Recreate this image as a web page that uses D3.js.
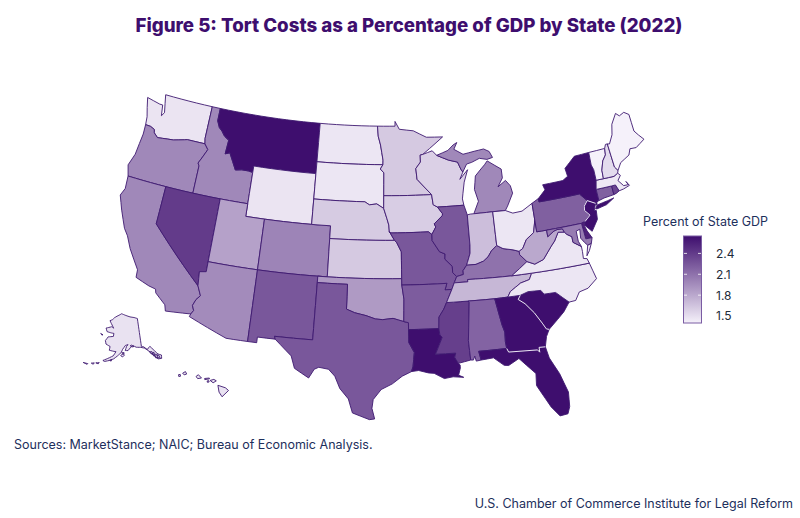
<!DOCTYPE html>
<html>
<head>
<meta charset="utf-8">
<script src="https://cdnjs.cloudflare.com/ajax/libs/d3/7.8.5/d3.min.js"></script>
<style>
html, body { margin: 0; padding: 0; background: #fff; }
svg { display: block; }
text { font-family: Inter, "Noto Sans", sans-serif; }
</style>
</head>
<body>
<svg width="800" height="518"></svg>
<script>
var stateNames = ["WA","OR","CA","ID","NV","MT","WY","UT","AZ","CO","NM","ND","SD","NE","KS","OK","TX",
  "MN","IA","MO","AR","LA","WI","IL","MS","MI","IN","KY","TN","AL","OH","GA","FL","SC","NC","VA","WV",
  "PA","NY","NJ","DE","MD","CT","RI","MA","VT","NH","ME","AK","HI"];
var stateValues = [1.47,1.98,1.98,1.98,2.40,2.65,1.47,1.84,1.96,2.0,2.25,1.46,1.46,1.61,1.62,1.88,2.25,
  1.62,1.60,2.25,2.22,2.65,1.58,2.25,2.38,1.98,1.68,2.1,1.72,2.18,1.46,2.65,2.65,2.65,1.46,1.46,1.8,
  2.2,2.65,2.65,2.55,2.05,2.2,2.35,1.45,1.40,1.52,1.40,1.48,1.48];
var legendTicks = [1.5,1.8,2.1,2.4];
var legendDomain = [1.4,2.65];

// outlines as [lon, lat], one list of rings per state
var outlines = {
  WA: [[[-124.7,48.38],[-123.1,48.15],[-122.75,48.15],[-122.55,47.3],[-122.3,47.6],[-122.75,49],[-117.03,49],[-117.04,46.42],[-116.92,46],[-118.98,46],[-119.3,45.93],[-120.5,45.7],[-121.2,45.65],[-122.3,45.55],[-122.8,45.85],[-122.9,46.1],[-123.4,46.25],[-124,46.27],[-124.1,46.9],[-124.4,47.6]]],
  OR: [[[-124,46.27],[-123.4,46.25],[-122.9,46.1],[-122.8,45.85],[-122.3,45.55],[-121.2,45.65],[-120.5,45.7],[-119.3,45.93],[-118.98,46],[-116.92,46],[-116.46,45.6],[-116.85,44.95],[-117.2,44.4],[-117.03,44.2],[-117.03,42],[-120,42],[-124.2,42],[-124.55,42.84],[-124.15,43.8],[-124.05,44.7],[-123.95,45.5]]],
  CA: [[[-124.2,42],[-120,42],[-120,39],[-114.57,35],[-114.15,34.27],[-114.5,33.9],[-114.72,33.4],[-114.52,33.03],[-114.72,32.72],[-117.12,32.53],[-117.3,33],[-118.4,33.75],[-118.5,34.03],[-119.2,34.15],[-120.6,34.55],[-120.65,35.15],[-121.9,36.6],[-122.5,37.5],[-123,38],[-123.8,39.3],[-124.4,40.4],[-124.1,41]]],
  ID: [[[-117.03,49],[-116.05,49],[-116.05,48],[-115.7,47.5],[-115.3,47.25],[-114.9,46.9],[-114.35,46.65],[-114.45,45.55],[-113.95,45.7],[-113.45,45.05],[-113,44.45],[-112.3,44.55],[-111.5,44.55],[-111.05,44.48],[-111.05,42],[-114.04,42],[-117.03,42],[-117.03,44.2],[-117.2,44.4],[-116.85,44.95],[-116.46,45.6],[-116.92,46],[-117.04,46.42]]],
  NV: [[[-120,42],[-114.04,42],[-114.04,37],[-114.04,36.2],[-114.7,36.1],[-114.57,35],[-120,39]]],
  MT: [[[-116.05,49],[-104.05,49],[-104.05,45.94],[-104.05,45],[-111.05,45],[-111.05,44.48],[-111.5,44.55],[-112.3,44.55],[-113,44.45],[-113.45,45.05],[-113.95,45.7],[-114.45,45.55],[-114.35,46.65],[-114.9,46.9],[-115.3,47.25],[-115.7,47.5],[-116.05,48]]],
  WY: [[[-111.05,45],[-104.05,45],[-104.05,43],[-104.05,41],[-109.05,41],[-111.05,41],[-111.05,42],[-111.05,44.48]]],
  UT: [[[-114.04,42],[-111.05,42],[-111.05,41],[-109.05,41],[-109.05,37],[-114.04,37]]],
  AZ: [[[-114.04,37],[-109.05,37],[-109.05,31.33],[-111.07,31.33],[-114.81,32.5],[-114.72,32.72],[-114.52,33.03],[-114.72,33.4],[-114.5,33.9],[-114.15,34.27],[-114.57,35],[-114.7,36.1],[-114.04,36.2]]],
  CO: [[[-109.05,41],[-104.05,41],[-102.05,41],[-102.05,40],[-102.05,37],[-103,37],[-109.05,37]]],
  NM: [[[-109.05,37],[-103,37],[-103,36.5],[-103.04,32],[-106.62,32],[-106.53,31.78],[-108.2,31.78],[-108.2,31.33],[-109.05,31.33]]],
  ND: [[[-104.05,49],[-97.23,49],[-97.13,48.2],[-96.85,47.5],[-96.55,46.3],[-96.56,45.94],[-104.05,45.94]]],
  SD: [[[-104.05,45.94],[-96.56,45.94],[-96.85,45.6],[-96.45,45.3],[-96.45,43.5],[-96.45,42.5],[-97.2,42.85],[-98,42.77],[-98.5,43],[-104.05,43],[-104.05,45]]],
  NE: [[[-104.05,43],[-98.5,43],[-98,42.77],[-97.2,42.85],[-96.45,42.5],[-96.1,41.7],[-95.9,41.2],[-95.85,40.7],[-95.31,40],[-102.05,40],[-102.05,41],[-104.05,41]]],
  KS: [[[-102.05,40],[-95.31,40],[-95.1,39.85],[-94.62,39.1],[-94.62,37],[-103,37],[-102.05,37]]],
  OK: [[[-103,37],[-94.62,37],[-94.62,36.5],[-94.43,35.4],[-94.48,33.64],[-95.5,33.9],[-96.5,33.8],[-97.2,33.85],[-98.1,34.1],[-99.2,34.3],[-100,34.56],[-100,36.5],[-103,36.5]]],
  TX: [[[-103,36.5],[-100,36.5],[-100,34.56],[-99.2,34.3],[-98.1,34.1],[-97.2,33.85],[-96.5,33.8],[-95.5,33.9],[-94.48,33.64],[-94.04,33.55],[-94.04,33],[-94.04,31.99],[-93.55,31.2],[-93.7,30.1],[-93.85,29.7],[-94.7,29.35],[-95.6,28.75],[-96.6,28.3],[-97.3,27.5],[-97.4,26.8],[-97.15,25.96],[-97.6,25.9],[-99.1,26.4],[-99.5,27.5],[-100.3,28.3],[-100.8,29.25],[-101.4,29.77],[-102.3,29.88],[-102.7,29.7],[-103.15,28.98],[-104.5,29.65],[-104.9,30.6],[-106,31.4],[-106.53,31.78],[-106.62,32],[-103.04,32]]],
  MN: [[[-97.23,49],[-95.15,49],[-95.15,49.38],[-94.65,48.75],[-93,48.6],[-91.5,48.05],[-89.6,48],[-92,46.7],[-92.3,46.65],[-92.3,46.1],[-92.85,45.6],[-92.75,44.75],[-91.22,43.5],[-96.45,43.5],[-96.45,45.3],[-96.85,45.6],[-96.56,45.94],[-96.55,46.3],[-96.85,47.5],[-97.13,48.2]]],
  IA: [[[-96.45,43.5],[-91.22,43.5],[-91.1,42.7],[-90.65,42.5],[-90.15,41.95],[-90.2,41.8],[-91.1,41.2],[-90.95,40.95],[-91.4,40.38],[-91.75,40.6],[-95.77,40.58],[-95.85,40.7],[-95.9,41.2],[-96.1,41.7],[-96.45,42.5]]],
  MO: [[[-95.77,40.58],[-91.75,40.6],[-91.4,40.38],[-91.4,39.9],[-90.7,39],[-90.15,38.8],[-90.2,38.4],[-89.5,37.8],[-89.5,37.3],[-89.13,36.98],[-89.42,36.5],[-89.7,36],[-90.37,36],[-90.15,36.5],[-94.62,36.5],[-94.62,37],[-94.62,39.1],[-95.1,39.85],[-95.31,40],[-95.85,40.7]]],
  AR: [[[-94.62,36.5],[-90.15,36.5],[-90.37,36],[-89.7,36],[-90.3,35],[-90.6,34.5],[-91.1,33.9],[-91.17,33],[-94.04,33],[-94.04,33.55],[-94.48,33.64],[-94.43,35.4]]],
  LA: [[[-94.04,33],[-91.17,33],[-91.1,32.5],[-90.9,32.3],[-91.6,31],[-89.73,31],[-89.85,30.67],[-89.55,30.18],[-89.4,30.05],[-89.4,29.8],[-89.6,29.25],[-89.15,29.05],[-90.1,29.15],[-90.9,29.05],[-91.8,29.5],[-92.3,29.55],[-93.2,29.77],[-93.85,29.7],[-93.7,30.1],[-93.55,31.2],[-94.04,31.99]]],
  WI: [[[-92,46.7],[-90.9,46.95],[-90.42,46.57],[-89.1,46.13],[-88.1,45.92],[-87.8,45.35],[-87.6,45.1],[-88,44.55],[-87.05,45.25],[-87.55,44.3],[-87.8,43.4],[-87.9,43],[-87.8,42.5],[-90.65,42.5],[-91.1,42.7],[-91.22,43.5],[-92.75,44.75],[-92.85,45.6],[-92.3,46.1],[-92.3,46.65]]],
  IL: [[[-90.65,42.5],[-87.8,42.5],[-87.53,41.72],[-87.53,39.35],[-87.6,38.7],[-87.95,38],[-88.05,37.8],[-88.45,37.4],[-88.45,37.1],[-89.13,36.98],[-89.5,37.3],[-89.5,37.8],[-90.2,38.4],[-90.15,38.8],[-90.7,39],[-91.4,39.9],[-91.4,40.38],[-90.95,40.95],[-91.1,41.2],[-90.2,41.8],[-90.15,41.95]]],
  MS: [[[-90.3,35],[-88.2,35],[-88.1,34.9],[-88.47,31.9],[-88.4,30.37],[-89.55,30.18],[-89.85,30.67],[-89.73,31],[-91.6,31],[-90.9,32.3],[-91.1,32.5],[-91.17,33],[-91.1,33.9],[-90.6,34.5]]],
  MI: [[[-86.82,41.76],[-84.8,41.76],[-83.45,41.73],[-83.15,42.05],[-82.42,43],[-82.55,43.6],[-83,44.07],[-83.9,43.65],[-83.3,44.3],[-83.3,45],[-84.75,45.78],[-85.1,45.5],[-85.55,45.2],[-86.25,44.7],[-86.5,43.65],[-86.2,42.7]],
       [[-90.42,46.57],[-89.1,46.9],[-88.45,47.3],[-88,47.47],[-88.4,46.95],[-87.4,46.5],[-86.1,46.65],[-85,46.75],[-84.4,46.5],[-84.1,46],[-84.75,45.9],[-85.6,46.05],[-86.5,45.8],[-87.1,45.7],[-87.6,45.1],[-87.8,45.35],[-88.1,45.92],[-89.1,46.13]]],
  IN: [[[-87.53,41.72],[-87.2,41.76],[-86.82,41.76],[-84.8,41.76],[-84.8,39.1],[-85.4,38.73],[-85.8,38.3],[-86.3,38],[-87.1,37.8],[-88.05,37.8],[-87.95,38],[-87.6,38.7],[-87.53,39.35]]],
  KY: [[[-89.13,36.98],[-88.45,37.1],[-88.45,37.4],[-88.05,37.8],[-87.1,37.8],[-86.3,38],[-85.8,38.3],[-85.4,38.73],[-84.8,39.1],[-84.2,38.8],[-83.2,38.6],[-82.6,38.42],[-82.6,38.15],[-81.97,37.54],[-83.68,36.6],[-86.5,36.65],[-88.07,36.68],[-88.07,36.5],[-89.42,36.5]]],
  TN: [[[-89.42,36.5],[-88.07,36.5],[-88.07,36.68],[-86.5,36.65],[-83.68,36.6],[-81.68,36.59],[-82,36.12],[-82.9,35.95],[-84,35.4],[-84.32,34.99],[-85.6,34.98],[-88.2,35],[-90.3,35],[-89.7,36]]],
  AL: [[[-88.2,35],[-85.6,34.98],[-85.18,32.87],[-85,32.3],[-85.05,31.55],[-85,31],[-87.6,31],[-87.45,30.3],[-87.9,30.25],[-88,30.65],[-88.15,30.35],[-88.4,30.37],[-88.47,31.9],[-88.1,34.9]]],
  OH: [[[-84.8,41.76],[-83.45,41.73],[-82.7,41.45],[-81.7,41.5],[-80.52,41.98],[-80.52,40.64],[-80.85,39.7],[-81.7,39.25],[-82.2,38.6],[-82.6,38.42],[-83.2,38.6],[-84.2,38.8],[-84.8,39.1]]],
  GA: [[[-85.6,34.98],[-84.32,34.99],[-83.1,35],[-83.35,34.7],[-82.75,34.3],[-82,33.5],[-81.4,32.6],[-81.1,32.1],[-80.85,32.03],[-81.2,31.5],[-81.45,30.72],[-82.03,30.75],[-82.03,30.37],[-82.2,30.57],[-84.86,30.7],[-85,31],[-85.05,31.55],[-85,32.3],[-85.18,32.87]]],
  FL: [[[-87.6,31],[-85,31],[-84.86,30.7],[-82.2,30.57],[-82.03,30.37],[-82.03,30.75],[-81.45,30.72],[-81.25,29.8],[-80.55,28.45],[-80.05,26.9],[-80.15,25.75],[-80.4,25.2],[-81.1,25.13],[-81.75,25.95],[-82.15,26.7],[-82.75,27.8],[-82.65,28.75],[-83.4,29.5],[-84,30.1],[-85,29.65],[-85.4,29.7],[-86.3,30.38],[-87.45,30.3]]],
  SC: [[[-83.1,35],[-82.3,35.2],[-81.05,35.15],[-80.8,34.82],[-79.67,34.8],[-78.55,33.87],[-79.2,33.2],[-79.9,32.7],[-80.85,32.03],[-81.1,32.1],[-81.4,32.6],[-82,33.5],[-82.75,34.3],[-83.35,34.7]]],
  NC: [[[-81.68,36.59],[-75.87,36.55],[-75.5,35.25],[-76.5,34.65],[-77.4,34.5],[-77.9,33.9],[-78.55,33.87],[-79.67,34.8],[-80.8,34.82],[-81.05,35.15],[-82.3,35.2],[-83.1,35],[-84.32,34.99],[-84,35.4],[-82.9,35.95],[-82,36.12]]],
  VA: [[[-83.68,36.6],[-81.68,36.59],[-75.87,36.55],[-76,36.93],[-76.35,37],[-76.3,37.55],[-76.3,37.95],[-77.05,38.4],[-77.05,38.85],[-77.5,39.1],[-77.72,39.32],[-78.35,39.4],[-78.87,38.77],[-79.3,38.42],[-80.3,37.5],[-81.23,37.25],[-81.97,37.54]],
       [[-75.95,37.15],[-75.65,37.95],[-75.25,38.03],[-75.6,37.5]]],
  WV: [[[-80.52,40.64],[-80.52,39.72],[-79.48,39.72],[-79.48,39.2],[-78.75,39.55],[-78.4,39.62],[-77.85,39.6],[-77.72,39.32],[-78.35,39.4],[-78.87,38.77],[-79.3,38.42],[-80.3,37.5],[-81.23,37.25],[-81.97,37.54],[-82.6,38.15],[-82.6,38.42],[-82.2,38.6],[-81.7,39.25],[-80.85,39.7]]],
  PA: [[[-80.52,41.98],[-79.76,42.27],[-79.76,42],[-75.35,42],[-74.7,41.36],[-75.13,40.98],[-75.2,40.65],[-74.75,40.2],[-75.4,39.8],[-75.8,39.72],[-79.48,39.72],[-80.52,39.72],[-80.52,40.64]]],
  NY: [[[-79.76,42],[-79.76,42.27],[-78.9,42.85],[-79.05,43.27],[-76.8,43.3],[-76.2,43.55],[-76.3,44.2],[-75,44.98],[-73.34,45.01],[-73.4,44],[-73.25,43.6],[-73.27,42.75],[-73.5,42.05],[-73.49,41.2],[-73.73,41.1],[-73.8,40.8],[-73.9,41],[-74.7,41.36],[-75.35,42]],
       [[-74.03,40.6],[-73.75,40.85],[-72.6,40.98],[-71.9,41.07],[-72.8,40.7],[-73.9,40.55]]],
  NJ: [[[-74.7,41.36],[-73.9,41],[-74.2,40.5],[-74,40.45],[-74.1,39.75],[-74.9,38.93],[-75.5,39.5],[-75.4,39.8],[-74.75,40.2],[-75.2,40.65],[-75.13,40.98]]],
  DE: [[[-75.8,39.72],[-75.4,39.8],[-75.55,39.45],[-75.4,39.05],[-75.05,38.45],[-75.7,38.46]]],
  MD: [[[-79.48,39.72],[-75.8,39.72],[-75.7,38.46],[-75.05,38.45],[-75.25,38.03],[-75.65,37.95],[-75.9,38.2],[-76.2,38.6],[-76.1,39.3],[-76.5,39.2],[-76.5,38.4],[-76.3,37.95],[-77.05,38.4],[-77.05,38.85],[-77.5,39.1],[-77.72,39.32],[-77.85,39.6],[-78.4,39.62],[-78.75,39.55],[-79.48,39.2]]],
  CT: [[[-73.5,42.05],[-71.8,42.02],[-71.8,41.32],[-72.9,41.25],[-73.73,41.1],[-73.49,41.2]]],
  RI: [[[-71.8,42.02],[-71.38,42.02],[-71.15,41.5],[-71.5,41.37],[-71.8,41.32]]],
  MA: [[[-73.5,42.05],[-73.27,42.75],[-72.46,42.73],[-71.3,42.7],[-70.82,42.87],[-70.6,42.65],[-71,42.3],[-70.55,41.8],[-70.05,41.78],[-70.2,42.07],[-69.95,41.7],[-70.65,41.55],[-71.15,41.5],[-71.38,42.02],[-71.8,42.02]]],
  VT: [[[-73.34,45.01],[-71.5,45.01],[-71.6,44.5],[-72.05,44.1],[-72.4,43.4],[-72.46,42.73],[-73.27,42.75],[-73.25,43.6],[-73.4,44]]],
  NH: [[[-71.5,45.01],[-71.3,45.3],[-71.08,45.3],[-70.98,43.4],[-70.7,43.07],[-70.82,42.87],[-71.3,42.7],[-72.46,42.73],[-72.4,43.4],[-72.05,44.1],[-71.6,44.5]]],
  ME: [[[-71.08,45.3],[-70.85,45.25],[-70.3,45.9],[-70,46.7],[-69.25,47.45],[-68.9,47.18],[-68.3,47.35],[-67.8,47.07],[-67.8,45.7],[-67.45,45.3],[-67,44.85],[-68.1,44.4],[-68.8,44.45],[-69.1,44],[-70.2,43.6],[-70.7,43.07],[-70.98,43.4]]],
  AK: [[[-141,69.65],[-141,60.3],[-139.5,60],[-137.5,58.9],[-136.5,59.45],[-135.4,59.75],[-133.9,58.5],[-131.8,56.6],[-130,55.9],[-130.5,54.8],[-132.5,55],[-134.3,56.5],[-136.6,58.2],[-139,59.5],[-141.5,60],[-144.5,60.2],[-146.5,60.8],[-148.2,60.3],[-150,59.2],[-151.8,59.2],[-151,60.6],[-150,61.2],[-151.8,60.9],[-153.5,59.6],[-154.3,58.5],[-156.5,57.2],[-158.5,56.1],[-161,55.3],[-163.5,54.7],[-164.5,54.9],[-162,55.9],[-159,57.1],[-157.7,58.6],[-159,58.6],[-162,58.7],[-162,60],[-165,60.5],[-166,61.6],[-164.7,63],[-161,63.5],[-161,64.5],[-163,64.5],[-166.5,64.6],[-168,65.65],[-164,66.5],[-163.7,66.6],[-162,66.2],[-163.7,67.1],[-166.5,68.35],[-164.5,68.9],[-163,69.7],[-161,70.3],[-156.6,71.35],[-152,70.85],[-148,70.4],[-144,70.1]],
       [[-154.5,57.5],[-153.5,57],[-152.2,57.6],[-153,58.1]],
       [[-170.7,63.4],[-168.8,63.2],[-169.5,63]],
       [[-136.5,58.1],[-135,57.9],[-134.8,56.9],[-135.9,57.3]],
       [[-134.5,57.6],[-133.8,57.4],[-134,56.2],[-134.7,56.4]],
       [[-133.6,56.8],[-132.6,56.6],[-132.7,55.3],[-133.8,55.6]],
       [[-132.4,56.4],[-131.4,56],[-131.2,55.2],[-132.2,55.2]],
       [[-148.5,60.8],[-147,60.4],[-146,60.5],[-147.5,61]],
       [[-154,58.4],[-152.5,58.5],[-152.6,58]],
       [[-160.6,55.4],[-159.6,55.8],[-159.8,55.2]],
       [[-168,53.5],[-166.2,53.9],[-166.6,53.4]],
       [[-170.3,52.95],[-168.8,53.35],[-169.1,52.8]],
       [[-174.5,52.2],[-172,52.4],[-172.2,52.1]]],
  HI: [[[-155.9,20.25],[-155.1,19.85],[-154.8,19.5],[-155.65,18.95],[-155.9,19.5]],
       [[-156.7,20.9],[-156.25,20.95],[-156,20.75],[-156.4,20.6]],
       [[-157.3,21.2],[-156.75,21.17],[-156.75,21.08],[-157.3,21.08]],
       [[-157.05,20.9],[-156.85,20.9],[-156.85,20.75],[-157.05,20.75]],
       [[-158.25,21.55],[-157.95,21.7],[-157.65,21.3],[-158.1,21.3]],
       [[-159.75,22.1],[-159.4,22.23],[-159.3,21.95],[-159.6,21.9]],
       [[-160.25,22],[-160.05,22],[-160.05,21.8],[-160.25,21.8]]]
};

// these borders show as a pale line between the darkest states
var paleBorders = [
  [[-83.1,35],[-83.35,34.7],[-82.75,34.3],[-82,33.5],[-81.4,32.6],[-81.1,32.1],[-80.85,32.03]],
  [[-85,31],[-84.86,30.7],[-82.2,30.57],[-82.03,30.37],[-82.03,30.75],[-81.45,30.72]],
  [[-74.7,41.36],[-75.13,40.98],[-75.2,40.65],[-74.75,40.2],[-75.4,39.8]],
  [[-74.7,41.36],[-73.9,41]]
];

// split long edges so that borders follow the parallels, not great circles
function densify(ring) {
  var out = [];
  ring.forEach(function(p, i) {
    var q = ring[(i + 1) % ring.length];
    var n = Math.ceil(Math.max(Math.abs(q[0] - p[0]), Math.abs(q[1] - p[1])));
    for (var k = 0; k < Math.max(n, 1); k++) {
      out.push([p[0] + (q[0] - p[0]) * k / Math.max(n, 1), p[1] + (q[1] - p[1]) * k / Math.max(n, 1)]);
    }
  });
  out.push(out[0]);
  return out;
}

function toFeature(name, i) {
  var polys = outlines[name].map(function(ring) {
    var r = densify(ring);
    // d3 takes the small side only when the ring winds the right way
    if (d3.geoArea({type: "Polygon", coordinates: [r]}) > 2 * Math.PI) r.reverse();
    return [r];
  });
  return {type: "Feature", id: name, value: stateValues[i],
    geometry: {type: "MultiPolygon", coordinates: polys}};
}

var features = stateNames.map(toFeature);

// lower 48, alaska and hawaii each get their own projection
var lower48 = d3.geoConicEqualArea().rotate([96, 0]).center([-0.6, 38.7]).parallels([29.5, 45.5])
  .scale(726).translate([382, 257]);
var alaska = d3.geoConicEqualArea().rotate([150, 0]).center([-4, 60]).parallels([62, 72])
  .scale(172).translate([122, 348]);
var hawaii = d3.geoConicEqualArea().rotate([175, 0]).center([18, 19.9]).parallels([20, 40])
  .scale(530).translate([209, 390]);

var path = d3.geoPath(lower48);
var pathAk = d3.geoPath(alaska);
var pathHi = d3.geoPath(hawaii);

function statePath(d) {
  if (d.id == "AK") return pathAk(d);
  if (d.id == "HI") return pathHi(d);
  return path(d);
}

var color = d3.scaleLinear().domain(legendDomain).range(["#f5f1fa", "#3e0e6e"]);

var svg = d3.select("svg");

svg.append("text")
  .attr("x", 409).attr("y", 32)
  .attr("text-anchor", "middle")
  .attr("font-size", 18.7).attr("font-weight", 800)
  .attr("fill", "#3e0e6e")
  .text("Figure 5: Tort Costs as a Percentage of GDP by State (2022)");

svg.append("g").selectAll("path")
  .data(features)
  .enter().append("path")
  .attr("d", statePath)
  .attr("fill", function(d) { return color(d.value); })
  .attr("stroke", "#3e1a70")
  .attr("stroke-width", 0.9)
  .attr("stroke-linejoin", "round");

svg.append("path")
  .datum({type: "MultiLineString", coordinates: paleBorders})
  .attr("d", path)
  .attr("fill", "none")
  .attr("stroke", "#ece6f4")
  .attr("stroke-width", 1);

// legend
var legendY = d3.scaleLinear().domain(legendDomain).range([323, 236]);
var defs = svg.append("defs");
var grad = defs.append("linearGradient").attr("id", "legendGrad")
  .attr("x1", 0).attr("y1", 1).attr("x2", 0).attr("y2", 0);
grad.selectAll("stop").data(legendDomain).enter().append("stop")
  .attr("offset", function(d, i) { return i; })
  .attr("stop-color", function(d) { return color(d); });

svg.append("text")
  .attr("x", 643).attr("y", 226)
  .attr("font-size", 12.5)
  .attr("fill", "#1d2f5c")
  .text("Percent of State GDP");

svg.append("rect")
  .attr("x", 683.5).attr("y", legendY(legendDomain[1]))
  .attr("width", 18).attr("height", legendY(legendDomain[0]) - legendY(legendDomain[1]))
  .attr("fill", "url(#legendGrad)")
  .attr("stroke", "#7a5ca3").attr("stroke-width", 1);

svg.append("g").selectAll("g")
  .data(legendTicks.filter(function(d) { return d > 1.5; }))
  .enter().append("g")
  .each(function(d) {
    d3.select(this).append("line")
      .attr("x1", 684).attr("x2", 687).attr("y1", legendY(d)).attr("y2", legendY(d))
      .attr("stroke", "#fff").attr("stroke-opacity", 0.8);
    d3.select(this).append("line")
      .attr("x1", 698).attr("x2", 701).attr("y1", legendY(d)).attr("y2", legendY(d))
      .attr("stroke", "#fff").attr("stroke-opacity", 0.8);
  });

var legendAxis = svg.append("g")
  .attr("transform", "translate(716,0)")
  .call(d3.axisRight(legendY).tickValues(legendTicks).tickSize(0).tickPadding(0).tickFormat(d3.format(".1f")));
legendAxis.select(".domain").remove();
legendAxis.selectAll("text")
  .attr("font-size", 12)
  .attr("font-family", "Inter")
  .attr("fill", "#222b3a");

svg.append("text")
  .attr("x", 14).attr("y", 449)
  .attr("font-size", 12.5)
  .attr("fill", "#1d2f5c")
  .text("Sources: MarketStance; NAIC; Bureau of Economic Analysis.");

svg.append("text")
  .attr("x", 793).attr("y", 508)
  .attr("text-anchor", "end")
  .attr("font-size", 12.5)
  .attr("fill", "#1d2f5c")
  .text("U.S. Chamber of Commerce Institute for Legal Reform");
</script>
</body>
</html>
